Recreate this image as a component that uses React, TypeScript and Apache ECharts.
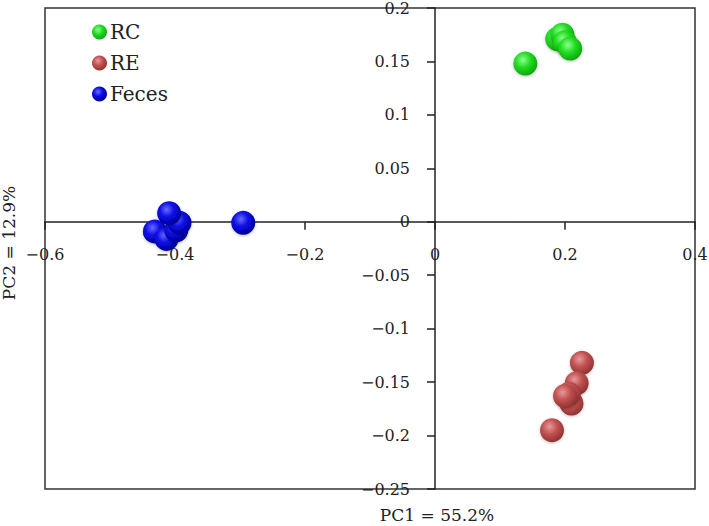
import React, { useEffect, useRef } from "react";
import * as echarts from "echarts";

const seriesNames = ["RC", "RE", "Feces"];
const rcPoints: [number, number][] = [
  [0.139, 0.148],
  [0.188, 0.171],
  [0.196, 0.175],
  [0.200, 0.168],
  [0.208, 0.162],
];
const rePoints: [number, number][] = [
  [0.226, -0.132],
  [0.218, -0.151],
  [0.210, -0.170],
  [0.206, -0.161],
  [0.200, -0.163],
  [0.180, -0.195],
];
const fecesPoints: [number, number][] = [
  [-0.295, -0.001],
  [-0.431, -0.009],
  [-0.413, -0.016],
  [-0.398, -0.008],
  [-0.393, -0.001],
  [-0.409, 0.008],
];
const xLabel = "PC1 = 55.2%";
const yLabel = "PC2 = 12.9%";
const xRange = { min: -0.6, max: 0.4, interval: 0.2 };
const yRange = { min: -0.25, max: 0.2, interval: 0.05 };

const FONT = "DejaVu Serif";

function sphere(light: string, mid: string, dark: string) {
  return new echarts.graphic.RadialGradient(0.4, 0.35, 0.7, [
    { offset: 0, color: light },
    { offset: 0.45, color: mid },
    { offset: 1, color: dark },
  ]);
}

function fmt(v: number) {
  const a = parseFloat(Math.abs(v).toFixed(2)).toString();
  return v < -1e-9 ? "\u2212" + a : a;
}

export default function App() {
  const ref = useRef<HTMLDivElement>(null);
  useEffect(() => {
    if (!ref.current) return;
    const chart = echarts.init(ref.current, null, { renderer: "svg" });
    const colors = [
      sphere("#90ff90", "#22dd22", "#0d9e0d"),
      sphere("#e89a9a", "#c25252", "#8a2f2f"),
      sphere("#6a6aff", "#0a0ae6", "#00008c"),
    ];
    const data = [rcPoints, rePoints, fecesPoints];
    const axisCommon = {
      type: "value",
      axisLine: { show: true, onZero: false, lineStyle: { color: "#222", width: 1.5 } },
      axisTick: { show: true, inside: false, length: 8, lineStyle: { color: "#222", width: 1.5 } },
      splitLine: { show: false },
    };
    chart.setOption({
      animation: false,
      backgroundColor: "#fff",
      grid: {
        left: 45,
        right: 14,
        top: 8,
        bottom: 37,
        show: true,
        containLabel: false,
        outerBoundsMode: "none",
        borderColor: "#333",
        borderWidth: 1.5,
        backgroundColor: "transparent",
      },
      legend: {
        show: true,
        orient: "vertical",
        left: 92,
        top: 22,
        padding: 0,
        itemWidth: 15,
        itemHeight: 15,
        itemGap: 11,
        icon: "circle",
        data: seriesNames,
        textStyle: { fontFamily: FONT, fontSize: 20, color: "#222", padding: [0, 0, 0, -2] },
      },
      xAxis: {
        ...axisCommon,
        min: xRange.min,
        max: xRange.max,
        interval: xRange.interval,
        axisLabel: {
          show: true,
          margin: 25,
          fontFamily: FONT,
          fontSize: 16,
          color: "#222",
          formatter: fmt,
        },
      },
      yAxis: {
        ...axisCommon,
        min: yRange.min,
        max: yRange.max,
        interval: yRange.interval,
        axisLabel: {
          show: true,
          margin: 25,
          fontFamily: FONT,
          fontSize: 16,
          color: "#222",
          formatter: fmt,
        },
      },
      graphic: [
        {
          type: "text",
          x: 437,
          y: 515,
          style: {
            text: xLabel,
            fontFamily: FONT,
            fontSize: 17,
            fill: "#222",
            align: "center",
            verticalAlign: "middle",
          },
        },
        {
          type: "text",
          x: 9,
          y: 243,
          rotation: Math.PI / 2,
          style: {
            text: yLabel,
            fontFamily: FONT,
            fontSize: 17,
            fill: "#222",
            align: "center",
            verticalAlign: "middle",
          },
        },
      ],
      series: seriesNames.map((name, i) => ({
        name,
        type: "scatter",
        data: data[i],
        symbol: "circle",
        symbolSize: 24,
        z: 5,
        itemStyle: {
          color: colors[i],
          opacity: 1,
          shadowBlur: 3,
          shadowColor: "rgba(0,0,0,0.25)",
          shadowOffsetY: 1,
        },
      })),
    });
    // move both axes (line, ticks, labels) so that they cross at zero
    const x0 = chart.convertToPixel({ xAxisIndex: 0 }, 0) as number;
    const xLeft = chart.convertToPixel({ xAxisIndex: 0 }, xRange.min) as number;
    const y0 = chart.convertToPixel({ yAxisIndex: 0 }, 0) as number;
    const yBottom = chart.convertToPixel({ yAxisIndex: 0 }, yRange.min) as number;
    chart.setOption({
      xAxis: { offset: -(yBottom - y0) },
      yAxis: { offset: -(x0 - xLeft) },
    });
    return () => chart.dispose();
  }, []);
  return (
    <div
      ref={ref}
      style={{ position: "fixed", left: 0, top: 0, width: 709, height: 526 }}
    />
  );
}
